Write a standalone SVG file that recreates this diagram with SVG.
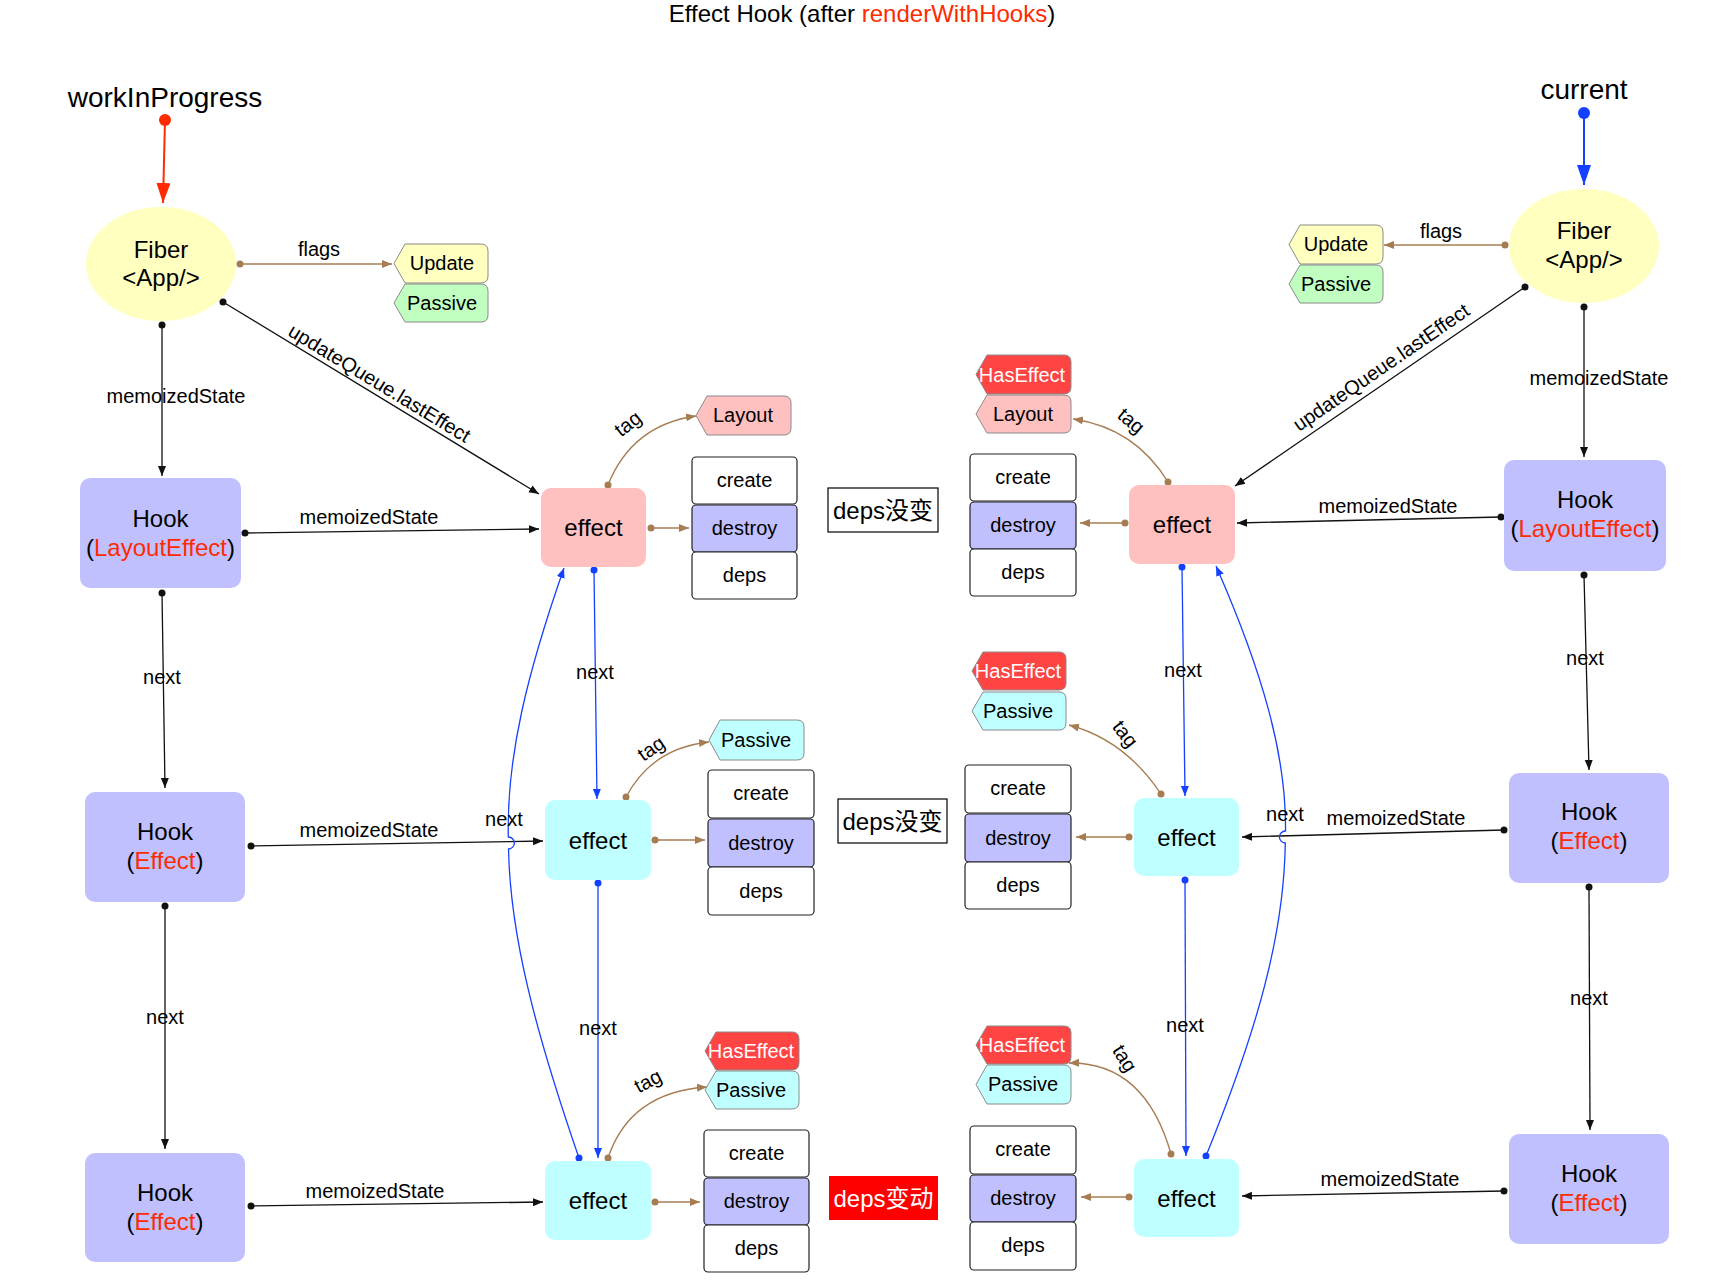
<svg xmlns="http://www.w3.org/2000/svg" width="1724" height="1286" viewBox="0 0 1724 1286">
<defs>
<style>
text{font-family:"Liberation Sans",Arial,"Noto Sans CJK SC",sans-serif;fill:#000}
.t20{font-size:20px}
.t24{font-size:24px}
.mid{text-anchor:middle}
.red{fill:#FF2A00}
.hook{fill:#C0C0FF}
.epink{fill:#FFC0C0}
.ecyan{fill:#C0FFFF}
.cell{fill:#fff;stroke:#222;stroke-width:1.2}
.cellb{fill:#C0C0FF;stroke:#222;stroke-width:1.2}
.tag{stroke:#8a8a8a;stroke-width:1}
.he{font-size:20px;fill:#fff}
.blk{stroke:#111;stroke-width:1.3;fill:none;marker-start:url(#dk);marker-end:url(#ak)}
.brn{stroke:#A67C52;stroke-width:1.3;fill:none;marker-start:url(#dn);marker-end:url(#an)}
.blu{stroke:#1440FF;stroke-width:1.3;fill:none;marker-start:url(#du);marker-end:url(#au)}
</style>
<marker id="ak" viewBox="0 0 10 10" refX="10" refY="5" markerWidth="10" markerHeight="10" orient="auto" markerUnits="userSpaceOnUse"><path d="M0,1 L10,5 L0,9 Z" fill="#111"/></marker>
<marker id="an" viewBox="0 0 10 10" refX="10" refY="5" markerWidth="10" markerHeight="10" orient="auto" markerUnits="userSpaceOnUse"><path d="M0,1 L10,5 L0,9 Z" fill="#A67C52"/></marker>
<marker id="au" viewBox="0 0 10 10" refX="10" refY="5" markerWidth="10" markerHeight="10" orient="auto" markerUnits="userSpaceOnUse"><path d="M0,1 L10,5 L0,9 Z" fill="#1440FF"/></marker>
<marker id="dk" viewBox="0 0 8 8" refX="4" refY="4" markerWidth="8" markerHeight="8" markerUnits="userSpaceOnUse"><circle cx="4" cy="4" r="3.5" fill="#111"/></marker>
<marker id="dn" viewBox="0 0 8 8" refX="4" refY="4" markerWidth="8" markerHeight="8" markerUnits="userSpaceOnUse"><circle cx="4" cy="4" r="3.5" fill="#A67C52"/></marker>
<marker id="du" viewBox="0 0 8 8" refX="4" refY="4" markerWidth="8" markerHeight="8" markerUnits="userSpaceOnUse"><circle cx="4" cy="4" r="3.5" fill="#1440FF"/></marker>
<marker id="bigr" viewBox="0 0 20 14" refX="20" refY="7" markerWidth="20" markerHeight="14" orient="auto" markerUnits="userSpaceOnUse"><path d="M0,0 L20,7 L0,14 Z" fill="#FF2A00"/></marker>
<marker id="bigu" viewBox="0 0 20 14" refX="20" refY="7" markerWidth="20" markerHeight="14" orient="auto" markerUnits="userSpaceOnUse"><path d="M0,0 L20,7 L0,14 Z" fill="#1440FF"/></marker>
</defs>
<rect width="1724" height="1286" fill="#fff"/>

<text id="title" class="mid" x="862" y="22" font-size="24">Effect Hook (after <tspan class="red">renderWithHooks</tspan>)</text>

<g id="connectors">
<path d="M165,120 L163,203" stroke="#FF2A00" stroke-width="2" fill="none" marker-end="url(#bigr)"/>
<circle cx="165" cy="120" r="6" fill="#FF2A00"/>
<path d="M1584,113 L1584,185" stroke="#1440FF" stroke-width="2" fill="none" marker-end="url(#bigu)"/>
<circle cx="1584" cy="113" r="6" fill="#1440FF"/>

<path class="brn" d="M240,264 L392,264"/>
<path class="brn" d="M1505,245 L1384,245"/>
<path class="blk" d="M162,325 L162,476"/>
<path class="blk" d="M223,302 L539,494"/>
<path class="blk" d="M1584,307 L1584,457"/>
<path class="blk" d="M1525,287 L1235,486"/>
<path class="blk" d="M245,533 L539,529"/>
<path class="blk" d="M162,593 L165,788"/>
<path class="blk" d="M251,846 L543,841"/>
<path class="blk" d="M165,906 L165,1149"/>
<path class="blk" d="M251,1206 L543,1202"/>
<path class="blk" d="M1501,517 L1237,523"/>
<path class="blk" d="M1584,575 L1589,770"/>
<path class="blk" d="M1504,830 L1242,837"/>
<path class="blk" d="M1589,887 L1590,1130"/>
<path class="blk" d="M1504,1191 L1242,1196"/>

<path class="brn" d="M651,528 L689,528"/>
<path class="brn" d="M655,840 L705,840"/>
<path class="brn" d="M655,1202 L700,1202"/>
<path class="brn" d="M1125,523 L1080,523"/>
<path class="brn" d="M1129,837 L1076,837"/>
<path class="brn" d="M1129,1197 L1081,1197"/>

<path class="brn" d="M608,485 Q632,425 696,416"/>
<path class="brn" d="M626,797 Q652,748 709,742"/>
<path class="brn" d="M608,1158 Q630,1092 707,1087"/>
<path class="brn" d="M1168,482 Q1135,428 1073,419"/>
<path class="brn" d="M1161,794 Q1125,740 1069,725"/>
<path class="brn" d="M1171,1154 Q1145,1062 1069,1063"/>

<path class="blu" d="M594,570 L597,799"/>
<path class="blu" d="M598,883 L598,1158"/>
<path class="blu" d="M1182,567 L1185,796"/>
<path class="blu" d="M1185,880 L1186,1156"/>

<path class="blu" d="M579,1158 C534.5,1029 510.25,934.5 508.5,849 A6,6 0 0 0 508.3,837 C506.5,757 527,674 564,568"/>
<path class="blu" d="M1206,1156 C1258,1028 1284,934 1285.3,843 A6,6 0 0 1 1285.5,831 C1286.5,756.5 1263,673 1216,566"/>

<g class="t20">
<text class="mid" x="319" y="256">flags</text>
<text class="mid" x="1441" y="238">flags</text>
<text class="mid" x="176" y="403">memoizedState</text>
<text class="mid" x="369" y="524">memoizedState</text>
<text class="mid" x="369" y="837">memoizedState</text>
<text class="mid" x="375" y="1198">memoizedState</text>
<text class="mid" x="1599" y="385">memoizedState</text>
<text class="mid" x="1388" y="513">memoizedState</text>
<text class="mid" x="1396" y="825">memoizedState</text>
<text class="mid" x="1390" y="1186">memoizedState</text>
<text class="mid" x="162" y="684">next</text>
<text class="mid" x="165" y="1024">next</text>
<text class="mid" x="595" y="679">next</text>
<text class="mid" x="598" y="1035">next</text>
<text class="mid" x="504" y="826">next</text>
<text class="mid" x="1183" y="677">next</text>
<text class="mid" x="1185" y="1032">next</text>
<text class="mid" x="1285" y="821">next</text>
<text class="mid" x="1585" y="665">next</text>
<text class="mid" x="1589" y="1005">next</text>
<text class="mid" transform="translate(376,389) rotate(31.3)">updateQueue.lastEffect</text>
<text class="mid" transform="translate(1385,373) rotate(-34.5)">updateQueue.lastEffect</text>
<text class="mid" transform="translate(632,429) rotate(-38)">tag</text>
<text class="mid" transform="translate(655,754) rotate(-35)">tag</text>
<text class="mid" transform="translate(651,1087) rotate(-28)">tag</text>
<text class="mid" transform="translate(1127,426) rotate(40)">tag</text>
<text class="mid" transform="translate(1120,738) rotate(52)">tag</text>
<text class="mid" transform="translate(1119,1062) rotate(58)">tag</text>
</g>
</g>

<g id="wip-label"><text class="mid" x="165" y="107" font-size="28">workInProgress</text></g>
<g id="current-label"><text class="mid" x="1584" y="99" font-size="28">current</text></g>

<g id="fiber-wip">
<ellipse cx="161" cy="264" rx="75" ry="57" fill="#FFFFC0"/>
<text class="mid t24" x="161" y="258">Fiber</text>
<text class="mid t24" x="161" y="286">&lt;App/&gt;</text>
</g>
<g id="fiber-current">
<ellipse cx="1584" cy="246" rx="75" ry="57" fill="#FFFFC0"/>
<text class="mid t24" x="1584" y="239">Fiber</text>
<text class="mid t24" x="1584" y="268">&lt;App/&gt;</text>
</g>

<g id="tag-wip-update"><path class="tag" fill="#FFFFC0" d="M405,244 H481 Q488,244 488,251 V276 Q488,283 481,283 H405 L394,263.5 Z"/><text class="mid t20" x="442" y="270">Update</text></g>
<g id="tag-wip-passive"><path class="tag" fill="#C0FFC0" d="M405,284 H481 Q488,284 488,291 V315 Q488,322 481,322 H405 L394,303 Z"/><text class="mid t20" x="442" y="310">Passive</text></g>
<g id="tag-cur-update"><path class="tag" fill="#FFFFC0" d="M1300,225 H1376 Q1383,225 1383,232 V257 Q1383,264 1376,264 H1300 L1289,244.5 Z"/><text class="mid t20" x="1336" y="251">Update</text></g>
<g id="tag-cur-passive"><path class="tag" fill="#C0FFC0" d="M1300,265 H1376 Q1383,265 1383,272 V296 Q1383,303 1376,303 H1300 L1289,284 Z"/><text class="mid t20" x="1336" y="291">Passive</text></g>

<g id="tag-e1-layout"><path class="tag" fill="#FFC0C0" d="M707,396 H784 Q791,396 791,403 V428 Q791,435 784,435 H707 L696,415.5 Z"/><text class="mid t20" x="743" y="422">Layout</text></g>
<g id="tag-c1-haseffect"><path class="tag" fill="#FF4444" d="M987,355 H1064 Q1071,355 1071,362 V387 Q1071,394 1064,394 H987 L976,374.5 Z"/><text class="mid he" x="1022" y="382">HasEffect</text></g>
<g id="tag-c1-layout"><path class="tag" fill="#FFC0C0" d="M987,395 H1064 Q1071,395 1071,402 V426 Q1071,433 1064,433 H987 L976,414 Z"/><text class="mid t20" x="1023" y="421">Layout</text></g>

<g id="tag-e2-passive"><path class="tag" fill="#C0FFFF" d="M720,720 H797 Q804,720 804,727 V753 Q804,760 797,760 H720 L709,740 Z"/><text class="mid t20" x="756" y="747">Passive</text></g>
<g id="tag-c2-haseffect"><path class="tag" fill="#FF4444" d="M983,652 H1059 Q1066,652 1066,659 V683 Q1066,690 1059,690 H983 L972,671 Z"/><text class="mid he" x="1018" y="678">HasEffect</text></g>
<g id="tag-c2-passive"><path class="tag" fill="#C0FFFF" d="M983,692 H1059 Q1066,692 1066,699 V723 Q1066,730 1059,730 H983 L972,711 Z"/><text class="mid t20" x="1018" y="718">Passive</text></g>

<g id="tag-e3-haseffect"><path class="tag" fill="#FF4444" d="M716,1032 H792 Q799,1032 799,1039 V1063 Q799,1070 792,1070 H716 L705,1051 Z"/><text class="mid he" x="751" y="1058">HasEffect</text></g>
<g id="tag-e3-passive"><path class="tag" fill="#C0FFFF" d="M716,1071 H792 Q799,1071 799,1078 V1102 Q799,1109 792,1109 H716 L705,1090 Z"/><text class="mid t20" x="751" y="1097">Passive</text></g>
<g id="tag-c3-haseffect"><path class="tag" fill="#FF4444" d="M987,1026 H1064 Q1071,1026 1071,1033 V1057 Q1071,1064 1064,1064 H987 L976,1045 Z"/><text class="mid he" x="1022" y="1052">HasEffect</text></g>
<g id="tag-c3-passive"><path class="tag" fill="#C0FFFF" d="M987,1065 H1064 Q1071,1065 1071,1072 V1097 Q1071,1104 1064,1104 H987 L976,1084.5 Z"/><text class="mid t20" x="1023" y="1091">Passive</text></g>

<g id="hook-wip-layout"><rect class="hook" x="80" y="478" width="161" height="110" rx="10"/><text class="mid t24" x="160.5" y="527">Hook</text><text class="mid t24" x="160.5" y="556">(<tspan class="red">LayoutEffect</tspan>)</text></g>
<g id="hook-wip-effect1"><rect class="hook" x="85" y="792" width="160" height="110" rx="10"/><text class="mid t24" x="165" y="840">Hook</text><text class="mid t24" x="165" y="869">(<tspan class="red">Effect</tspan>)</text></g>
<g id="hook-wip-effect2"><rect class="hook" x="85" y="1153" width="160" height="109" rx="10"/><text class="mid t24" x="165" y="1201">Hook</text><text class="mid t24" x="165" y="1230">(<tspan class="red">Effect</tspan>)</text></g>
<g id="hook-cur-layout"><rect class="hook" x="1504" y="460" width="162" height="111" rx="10"/><text class="mid t24" x="1585" y="508">Hook</text><text class="mid t24" x="1585" y="537">(<tspan class="red">LayoutEffect</tspan>)</text></g>
<g id="hook-cur-effect1"><rect class="hook" x="1509" y="773" width="160" height="110" rx="10"/><text class="mid t24" x="1589" y="820">Hook</text><text class="mid t24" x="1589" y="849">(<tspan class="red">Effect</tspan>)</text></g>
<g id="hook-cur-effect2"><rect class="hook" x="1509" y="1134" width="160" height="110" rx="10"/><text class="mid t24" x="1589" y="1182">Hook</text><text class="mid t24" x="1589" y="1211">(<tspan class="red">Effect</tspan>)</text></g>

<g id="effect-wip1"><rect class="epink" x="541" y="488" width="105" height="79" rx="10"/><text class="mid t24" x="593.5" y="536">effect</text></g>
<g id="effect-wip2"><rect class="ecyan" x="545" y="800" width="106" height="80" rx="10"/><text class="mid t24" x="598" y="849">effect</text></g>
<g id="effect-wip3"><rect class="ecyan" x="545" y="1161" width="106" height="79" rx="10"/><text class="mid t24" x="598" y="1209">effect</text></g>
<g id="effect-cur1"><rect class="epink" x="1129" y="485" width="106" height="79" rx="10"/><text class="mid t24" x="1182" y="533">effect</text></g>
<g id="effect-cur2"><rect class="ecyan" x="1134" y="798" width="105" height="78" rx="10"/><text class="mid t24" x="1186.5" y="846">effect</text></g>
<g id="effect-cur3"><rect class="ecyan" x="1134" y="1159" width="105" height="78" rx="10"/><text class="mid t24" x="1186.5" y="1207">effect</text></g>

<g id="fields-wip1" class="t20">
<rect class="cell" x="692" y="457" width="105" height="47" rx="4"/><text class="mid" x="744.5" y="487">create</text>
<rect class="cellb" x="692" y="505" width="105" height="47" rx="4"/><text class="mid" x="744.5" y="535">destroy</text>
<rect class="cell" x="692" y="552" width="105" height="47" rx="4"/><text class="mid" x="744.5" y="582">deps</text>
</g>
<g id="fields-wip2" class="t20">
<rect class="cell" x="708" y="770" width="106" height="48" rx="4"/><text class="mid" x="761" y="800">create</text>
<rect class="cellb" x="708" y="819" width="106" height="48" rx="4"/><text class="mid" x="761" y="850">destroy</text>
<rect class="cell" x="708" y="867" width="106" height="48" rx="4"/><text class="mid" x="761" y="898">deps</text>
</g>
<g id="fields-wip3" class="t20">
<rect class="cell" x="704" y="1130" width="105" height="47" rx="4"/><text class="mid" x="756.5" y="1160">create</text>
<rect class="cellb" x="704" y="1178" width="105" height="47" rx="4"/><text class="mid" x="756.5" y="1208">destroy</text>
<rect class="cell" x="704" y="1225" width="105" height="47" rx="4"/><text class="mid" x="756.5" y="1255">deps</text>
</g>
<g id="fields-cur1" class="t20">
<rect class="cell" x="970" y="454" width="106" height="47" rx="4"/><text class="mid" x="1023" y="484">create</text>
<rect class="cellb" x="970" y="502" width="106" height="47" rx="4"/><text class="mid" x="1023" y="532">destroy</text>
<rect class="cell" x="970" y="549" width="106" height="47" rx="4"/><text class="mid" x="1023" y="579">deps</text>
</g>
<g id="fields-cur2" class="t20">
<rect class="cell" x="965" y="765" width="106" height="48" rx="4"/><text class="mid" x="1018" y="795">create</text>
<rect class="cellb" x="965" y="814" width="106" height="48" rx="4"/><text class="mid" x="1018" y="845">destroy</text>
<rect class="cell" x="965" y="862" width="106" height="47" rx="4"/><text class="mid" x="1018" y="892">deps</text>
</g>
<g id="fields-cur3" class="t20">
<rect class="cell" x="970" y="1126" width="106" height="48" rx="4"/><text class="mid" x="1023" y="1156">create</text>
<rect class="cellb" x="970" y="1175" width="106" height="47" rx="4"/><text class="mid" x="1023" y="1205">destroy</text>
<rect class="cell" x="970" y="1222" width="106" height="48" rx="4"/><text class="mid" x="1023" y="1252">deps</text>
</g>

<g id="note-deps1"><rect x="828" y="488" width="110" height="44" fill="#fff" stroke="#000" stroke-width="1.2"/><text class="mid t24" x="883" y="519">deps没变</text></g>
<g id="note-deps2"><rect x="838" y="799" width="109" height="44" fill="#fff" stroke="#000" stroke-width="1.2"/><text class="mid t24" x="892.5" y="830">deps没变</text></g>
<g id="note-deps3"><rect x="829" y="1176" width="109" height="44" fill="#FF0000"/><text class="mid t24" x="883.5" y="1207" style="fill:#fff">deps变动</text></g>
</svg>
